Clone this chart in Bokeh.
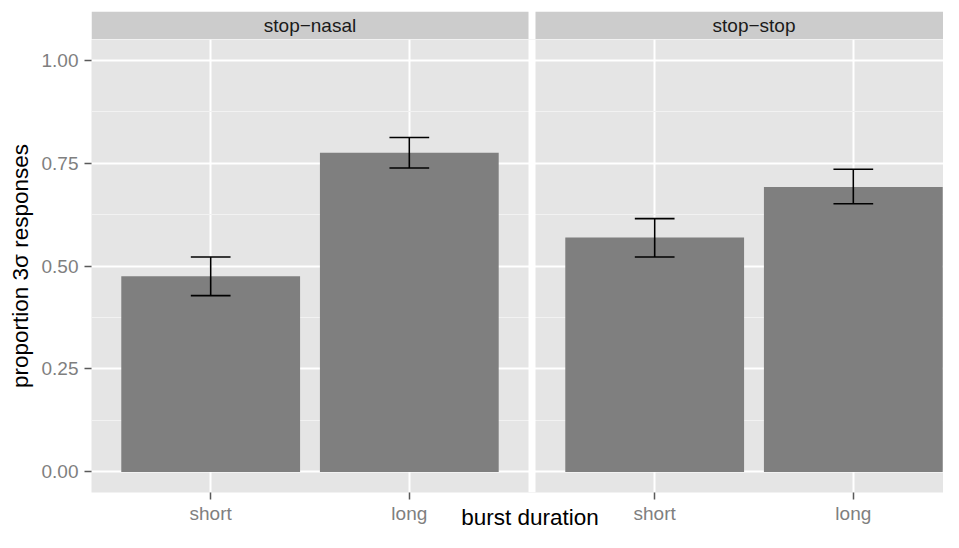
from bokeh.plotting import figure
from bokeh.layouts import column
from bokeh.models import Range1d, FixedTicker, BoxAnnotation, Label, ColumnDataSource
from bokeh.embed import file_html
from bokeh.resources import INLINE

# ---------------- data ----------------
panels = ["stop\u2212nasal", "stop\u2212stop"]
durations = ["short", "long"]
prop_nasal = [0.475, 0.775]
lower_nasal = [0.428, 0.738]
upper_nasal = [0.522, 0.812]
prop_stop = [0.569, 0.692]
lower_stop = [0.522, 0.651]
upper_stop = [0.615, 0.735]
y_ticks = [0.0, 0.25, 0.5, 0.75, 1.0]
y_tick_labels = ["0.00", "0.25", "0.50", "0.75", "1.00"]
y_minor = [0.125, 0.375, 0.625, 0.875]
x_title = "burst duration"
y_title = "proportion 3\u03c3 responses"

props = [prop_nasal, prop_stop]
lowers = [lower_nasal, lower_stop]
uppers = [upper_nasal, upper_stop]

# ---------------- layout ----------------
W, H = 943, 532
left_b, strip_top, strip_h = 91, 11, 28
strip_fig_h = strip_top + strip_h
main_h = H - strip_fig_h
bottom_b = 37
frame_w = W - left_b
frame_h = main_h - bottom_b
panel_w, gap_px = 437, 7
pad = 0.6
n = len(durations)
x_span = (n - 1) + 2 * pad
ppu_x = panel_w / x_span
panel_offset = x_span + gap_px / ppu_x
x0 = 1 - pad
x1 = x0 + frame_w / ppu_x
y_lo, y_hi = -0.05, 1.05

FONT = "Liberation Sans"
GREY_TXT = "#7F7F7F"

x_range = Range1d(x0, x1)

# ---------------- main panel figure ----------------
p = figure(width=W, height=main_h, output_backend="svg", toolbar_location=None,
           x_range=x_range, y_range=Range1d(y_lo, y_hi),
           min_border_left=left_b, min_border_right=0,
           min_border_top=0, min_border_bottom=bottom_b)
p.background_fill_color = "#E5E5E5"
p.border_fill_color = "white"
p.outline_line_color = None

xs, tops, los, his, labels_map = [], [], [], [], {}
for i, pn in enumerate(panels):
    for k, d in enumerate(durations):
        xpos = (k + 1) + i * panel_offset
        xs.append(xpos)
        tops.append(props[i][k])
        los.append(lowers[i][k])
        his.append(uppers[i][k])
        labels_map[xpos] = d

cap = 0.1
src = ColumnDataSource(dict(
    x=xs, top=tops, lo=los, hi=his,
    xl=[v - cap for v in xs], xr=[v + cap for v in xs]))

p.vbar(x="x", top="top", bottom=0, width=0.9, source=src,
       fill_color="#7F7F7F", line_color=None)
p.segment(x0="x", y0="lo", x1="x", y1="hi", source=src,
          line_color="black", line_width=1.6)
p.segment(x0="xl", y0="hi", x1="xr", y1="hi", source=src,
          line_color="black", line_width=1.6)
p.segment(x0="xl", y0="lo", x1="xr", y1="lo", source=src,
          line_color="black", line_width=1.6)

p.xaxis.ticker = FixedTicker(ticks=xs)
p.xaxis.major_label_overrides = labels_map
p.yaxis.ticker = FixedTicker(ticks=y_ticks, minor_ticks=y_minor)
p.yaxis.major_label_overrides = dict(zip(y_ticks, y_tick_labels))
for ax in (p.xaxis[0], p.yaxis[0]):
    ax.axis_line_color = None
    ax.major_tick_line_color = "#5A5A5A"
    ax.major_tick_line_width = 1.5
    ax.major_tick_out = 7
    ax.major_tick_in = 0
    ax.minor_tick_line_color = None
    ax.major_label_text_color = GREY_TXT
    ax.major_label_text_font = FONT
    ax.major_label_text_font_size = "19px"
    ax.axis_label_text_font = FONT
    ax.axis_label_text_font_size = "22.5px"
    ax.axis_label_text_font_style = "normal"
    ax.axis_label_text_color = "black"
p.yaxis.major_label_standoff = 6
p.xaxis.major_label_standoff = 3
p.yaxis.axis_label = y_title
p.yaxis.axis_label_standoff = 6
# leading no-break spaces centre the title on both panels (ggplot style)
p.xaxis.axis_label = "\u00a0\u00a0\u00a0\u00a0" + x_title
p.xaxis.axis_label_standoff = -22

p.xgrid.grid_line_color = "white"
p.xgrid.grid_line_width = 2
p.ygrid.grid_line_color = "white"
p.ygrid.grid_line_width = 2
p.ygrid.minor_grid_line_color = "#F2F2F2"
p.ygrid.minor_grid_line_width = 1

gap_left = x0 + x_span
p.add_layout(BoxAnnotation(left=gap_left, right=gap_left + gap_px / ppu_x,
                           bottom=y_lo, top=y_hi, fill_color="white",
                           fill_alpha=1, line_color=None))

# ---------------- facet strip figure ----------------
s = figure(width=W, height=strip_fig_h, output_backend="svg", toolbar_location=None,
           x_range=x_range, y_range=Range1d(0, 1),
           x_axis_type=None, y_axis_type=None,
           min_border_left=left_b, min_border_right=0,
           min_border_top=strip_top, min_border_bottom=0)
s.background_fill_color = "white"
s.border_fill_color = "white"
s.outline_line_color = None
s.xgrid.visible = False
s.ygrid.visible = False
for i, pn in enumerate(panels):
    lft = x0 + i * panel_offset
    s.add_layout(BoxAnnotation(left=lft, right=lft + x_span, bottom=0, top=1,
                               fill_color="#CCCCCC", fill_alpha=1, line_color=None))
for i, pn in enumerate(panels):
    lft = x0 + i * panel_offset
    s.add_layout(Label(x=lft + x_span / 2, y=0.5, text=pn,
                       text_align="center", text_baseline="middle",
                       text_font=FONT, text_font_size="19px", text_color="#1A1A1A"))

layout = column(s, p, spacing=0)
open("out.html", "w").write(file_html(layout, INLINE))
